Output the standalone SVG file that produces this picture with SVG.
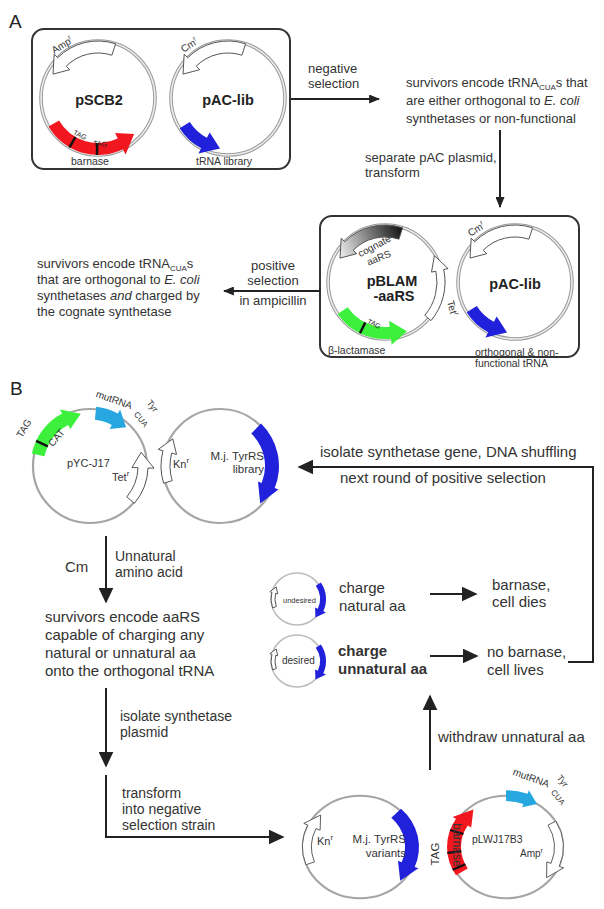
<svg xmlns="http://www.w3.org/2000/svg" width="604" height="909" viewBox="0 0 604 909">
<defs>
<style>
text{font-family:"Liberation Sans",Arial,Helvetica,sans-serif;fill:#333}
.ta{font-size:13px}
.tb{font-size:15px}
.tc{font-size:14px}
.lab{font-size:10.5px}
.sm{font-size:7px;fill:#222}
.big{font-size:19px;fill:#222}
.pn{font-size:14.5px;font-weight:bold;fill:#222;text-anchor:middle}
.box{fill:none;stroke:#333;stroke-width:2}
.ring{fill:none;stroke:#9a9a9a;stroke-width:3.6}
.ringin{fill:none;stroke:#ececec;stroke-width:1.6}
.cb{fill:none;stroke:#a5a5a5;stroke-width:2.2}
.wa{fill:#fff;stroke:#555;stroke-width:1}
.red{fill:#f2161e}
.grn{fill:#3cf03c}
.blu{fill:#2121dc}
.lb{fill:#27a7df}
.tick{stroke:#111;stroke-width:2.5}
.conn{fill:none;stroke:#222;stroke-width:2}
</style>
<marker id="ha" viewBox="0 0 10 10" refX="9" refY="5" markerWidth="11" markerHeight="9" orient="auto" markerUnits="userSpaceOnUse" preserveAspectRatio="none"><path d="M0,0L10,5L0,10Z" fill="#222"/></marker>
<marker id="hb" viewBox="0 0 10 10" refX="9" refY="5" markerWidth="16" markerHeight="15" orient="auto" markerUnits="userSpaceOnUse" preserveAspectRatio="none"><path d="M0,0L10,5L0,10Z" fill="#222"/></marker>
<linearGradient id="cog" gradientUnits="userSpaceOnUse" x1="115" y1="44" x2="55" y2="70"><stop offset="0" stop-color="#111"/><stop offset="1" stop-color="#e6e6e6"/></linearGradient>
</defs>

<text class="big" x="9" y="28">A</text>
<text class="big" x="10" y="395">B</text>

<g id="box1"><rect class="box" x="32" y="29" width="258" height="140" rx="12"/></g>
<g id="box2"><rect class="box" x="320" y="216" width="259" height="141" rx="12"/></g>

<g id="pSCB2">
<circle class="ring" cx="98" cy="98" r="57"/><circle class="ringin" cx="98" cy="98" r="57"/>
<path class="wa" d="M115.6,43.8 A57,57 0 0 0 57.7,57.7 L54.2,54.2 L53,74.1 L69.7,69.7 L66.2,66.2 A45,45 0 0 1 111.9,55.2 Z"/>
<text transform="translate(64,48) rotate(-32)" font-size="10" text-anchor="middle">Amp<tspan font-size="7" dy="-4">r</tspan></text>
<path class="red" d="M48.6,126.5 A57,57 0 0 0 123,149.2 L125.6,154.6 L134.1,134.1 L115.1,133.1 L117.7,138.4 A45,45 0 0 1 59,120.5 Z"/>
<line class="tick" x1="75.5" y1="137" x2="69.5" y2="147.4"/>
<line class="tick" x1="97.2" y1="143" x2="97" y2="155"/>
<text class="sm" transform="translate(79,137) rotate(25)" text-anchor="middle">TAG</text>
<text class="sm" transform="translate(100,146) rotate(5)" text-anchor="middle">TAG</text>
<text class="pn" x="99" y="105">pSCB2</text>
<text class="lab" x="90" y="165" text-anchor="middle">barnase</text>
</g>

<g id="pAC-lib">
<circle class="ring" cx="228" cy="98" r="57"/><circle class="ringin" cx="228" cy="98" r="57"/>
<path class="wa" d="M245.6,43.8 A57,57 0 0 0 187.7,57.7 L184.2,54.2 L183,74.1 L199.7,69.7 L196.2,66.2 A45,45 0 0 1 241.9,55.2 Z"/>
<text transform="translate(191,48) rotate(-32)" font-size="10" text-anchor="middle">Cm<tspan font-size="7" dy="-4">r</tspan></text>
<path class="blu" d="M179.7,128.2 A57,57 0 0 0 201.2,148.3 L198.4,153.6 L220,148.4 L209.7,132.4 L206.9,137.7 A45,45 0 0 1 189.8,121.9 Z"/>
<text class="pn" x="228" y="105">pAC-lib</text>
<text class="lab" x="196" y="165">tRNA library</text>
</g>

<g id="pBLAM-aaRS">
<g transform="translate(287,184)">
<circle class="ring" cx="98" cy="98" r="57"/><circle class="ringin" cx="98" cy="98" r="57"/>
<path d="M115.6,43.8 A57,57 0 0 0 57.7,57.7 L54.2,54.2 L53,74.1 L69.7,69.7 L66.2,66.2 A45,45 0 0 1 111.9,55.2 Z" fill="url(#cog)" stroke="#555" stroke-width="1"/>
</g>
<path class="grn" d="M337.7,313.9 A57,57 0 0 0 391,338.7 L391.6,344.7 L407,331.3 L389.1,320.8 L389.7,326.8 A45,45 0 0 1 347.7,307.2 Z"/>
<line class="tick" x1="365.3" y1="322.4" x2="360" y2="333.2"/>
<text class="sm" transform="translate(373,326) rotate(26)" text-anchor="middle">TAG</text>
<path class="wa" d="M431,320.6 A60,60 0 0 0 443.7,269.5 L448.1,268.6 L434.4,255.7 L431.5,272.1 L435.9,271.2 A52,52 0 0 1 424.8,315.4 Z"/>
<text transform="translate(449,309) rotate(75)" font-size="10" text-anchor="middle">Tet<tspan font-size="7" dy="-4">r</tspan></text>
<text transform="translate(376,249) rotate(-28)" font-size="10" text-anchor="middle">cognate</text>
<text transform="translate(380,261) rotate(-22)" font-size="10" text-anchor="middle">aaRS</text>
<text class="pn" x="392" y="286">pBLAM</text>
<text class="pn" x="394" y="301">-aaRS</text>
<text class="lab" x="328" y="354">β-lactamase</text>
</g>

<g id="pAC-lib-2">
<g transform="translate(287,184)">
<circle class="ring" cx="228" cy="98" r="57"/><circle class="ringin" cx="228" cy="98" r="57"/>
<path class="wa" d="M245.6,43.8 A57,57 0 0 0 187.7,57.7 L184.2,54.2 L183,74.1 L199.7,69.7 L196.2,66.2 A45,45 0 0 1 241.9,55.2 Z"/>
<text transform="translate(191,48) rotate(-32)" font-size="10" text-anchor="middle">Cm<tspan font-size="7" dy="-4">r</tspan></text>
<path class="blu" d="M179.7,128.2 A57,57 0 0 0 201.2,148.3 L198.4,153.6 L220,148.4 L209.7,132.4 L206.9,137.7 A45,45 0 0 1 189.8,121.9 Z"/>
<text class="pn" x="228" y="105">pAC-lib</text>
</g>
<text class="lab" x="475" y="356">orthogonal &amp; non-</text>
<text class="lab" x="475" y="367">functional tRNA</text>
</g>

<g id="textA">
<text class="ta" x="308" y="73">negative</text>
<text class="ta" x="308" y="88">selection</text>
<text class="ta" x="406" y="87">survivors encode tRNA<tspan font-size="8" dy="3">CUA</tspan><tspan dy="-3">s that</tspan></text>
<text class="ta" x="406" y="105">are either orthogonal to <tspan font-style="italic">E. coli</tspan></text>
<text class="ta" x="406" y="123">synthetases or non-functional</text>
<text class="ta" x="365" y="162">separate pAC plasmid,</text>
<text class="ta" x="365" y="177">transform</text>
<text class="ta" x="37" y="268">survivors encode tRNA<tspan font-size="8" dy="3">CUA</tspan><tspan dy="-3">s</tspan></text>
<text class="ta" x="37" y="284">that are orthogonal to <tspan font-style="italic">E. coli</tspan></text>
<text class="ta" x="37" y="300">synthetases <tspan font-style="italic">and</tspan> charged by</text>
<text class="ta" x="37" y="316">the cognate synthetase</text>
<text class="ta" x="273" y="270" text-anchor="middle">positive</text>
<text class="ta" x="273" y="285" text-anchor="middle">selection</text>
<text class="ta" x="273" y="305" text-anchor="middle">in ampicillin</text>
</g>

<g id="pYC-J17">
<circle class="cb" cx="90" cy="466" r="57"/>
<path class="grn" d="M31.8,453.6 A59.5,59.5 0 0 1 62.1,413.5 L60,409.5 L80.8,413.8 L70.3,428.9 L68.2,425 A46.5,46.5 0 0 0 44.5,456.3 Z"/>
<line class="tick" x1="47.9" y1="446.3" x2="36.1" y2="440.9"/>
<text transform="translate(27,430) rotate(-60)" font-size="10" text-anchor="middle">TAG</text>
<text transform="translate(59,440) rotate(-50)" font-size="10" text-anchor="middle">CAT</text>
<path class="lb" d="M96.2,406.8 A59.5,59.5 0 0 1 117.9,413.5 L120.1,409.5 L126.1,427.2 L109.7,428.9 L111.8,425 A46.5,46.5 0 0 0 94.9,419.8 Z"/>
<text transform="translate(113,403) rotate(19)" font-size="10" text-anchor="middle">mutRNA</text>
<text transform="translate(139,421) rotate(50)" font-size="8" text-anchor="middle">CUA</text>
<text transform="translate(150,408) rotate(52)" font-size="9" text-anchor="middle">Tyr</text>
<path class="wa" d="M134.4,503.3 A58,58 0 0 0 148,468 L154,468.2 L141.2,452.3 L132,467.5 L138,467.7 A48,48 0 0 1 126.8,496.9 Z"/>
<text x="67" y="467" font-size="11">pYC-J17</text>
<text x="112" y="481" font-size="11">Tet<tspan font-size="8" dy="-5">r</tspan></text>
</g>

<g id="tyrRS-library">
<circle class="cb" cx="220" cy="466" r="57"/>
<path class="wa" d="M163.6,483.3 A59,59 0 0 1 163,450.7 L158.2,449.4 L172.8,438.8 L176.5,454.4 L171.7,453.1 A50,50 0 0 0 172.2,480.6 Z"/>
<path class="blu" d="M261,423.6 A59,59 0 0 1 274.7,488.1 L278.4,489.6 L260.2,503.5 L258,481.4 L261.7,482.9 A45,45 0 0 0 251.3,433.6 Z"/>
<text x="173" y="468" font-size="11">Kn<tspan font-size="8" dy="-5">r</tspan></text>
<text x="264" y="460" font-size="11.5" text-anchor="end">M.j. TyrRS</text>
<text x="264" y="473" font-size="11.5" text-anchor="end">library</text>
</g>

<g id="undesired">
<g transform="translate(297,599)">
<circle r="26" fill="none" stroke="#bbb" stroke-width="1.5"/>
<path class="blu" d="M23.8,-16.6 A29,29 0 0 1 26.3,12.3 L29,13.5 L18.4,18.4 L18.1,8.5 L20.8,9.7 A23,23 0 0 0 18.8,-13.2 Z"/>
<path class="wa" d="M-24.4,8.9 A26,26 0 0 1 -25.1,-6.7 L-27.1,-7.3 L-20.8,-12 L-19.3,-5.2 L-21.3,-5.7 A22,22 0 0 0 -20.7,7.5 Z"/>
</g>
<text x="283" y="603" font-size="7.5">undesired</text>
</g>

<g id="desired">
<g transform="translate(297,661)">
<circle r="26" fill="none" stroke="#bbb" stroke-width="1.5"/>
<path class="blu" d="M23.8,-16.6 A29,29 0 0 1 26.3,12.3 L29,13.5 L18.4,18.4 L18.1,8.5 L20.8,9.7 A23,23 0 0 0 18.8,-13.2 Z"/>
<path class="wa" d="M-24.4,8.9 A26,26 0 0 1 -25.1,-6.7 L-27.1,-7.3 L-20.8,-12 L-19.3,-5.2 L-21.3,-5.7 A22,22 0 0 0 -20.7,7.5 Z"/>
</g>
<text x="282" y="664" font-size="10">desired</text>
</g>

<g id="tyrRS-variants">
<g transform="translate(360,847) scale(1,0.9)">
<circle class="cb" r="57"/>
<path class="wa" d="M-54,19.7 A57.5,57.5 0 0 1 -52.1,-24.3 L-56.2,-26.2 L-39.4,-35.5 L-39.9,-18.6 L-44,-20.5 A48.5,48.5 0 0 0 -45.6,16.6 Z"/>
<path class="blu" d="M41,-42.4 A59,59 0 0 1 54.7,22.1 L58.4,23.6 L40.2,37.5 L38,15.4 L41.7,16.9 A45,45 0 0 0 31.3,-32.4 Z"/>
</g>
<text x="317" y="845" font-size="11">Kn<tspan font-size="8" dy="-5">r</tspan></text>
<text x="406" y="843" font-size="11.5" text-anchor="end">M.j. TyrRS</text>
<text x="406" y="857" font-size="11.5" text-anchor="end">variants</text>
</g>

<g id="pLWJ17B3">
<g transform="translate(506,847) scale(1,0.9)">
<circle class="cb" r="57"/>
<path class="red" d="M-50,31.3 A59,59 0 0 1 -50,-31.3 L-53.4,-33.4 L-32.6,-41.8 L-34.8,-21.7 L-38.2,-23.9 A45,45 0 0 0 -38.2,23.9 Z"/>
<line class="tick" x1="-42.6" y1="-14.4" x2="-55.9" y2="-18.9"/>
<line class="tick" x1="-44.7" y1="4.9" x2="-58.7" y2="6.4"/>
<line class="tick" x1="-40.7" y1="19.2" x2="-53.3" y2="25.2"/>
<path class="lb" d="M0,-63 A63,63 0 0 1 21.6,-59.2 L22.9,-63 L31,-47.8 L16.1,-44.2 L17.4,-47.9 A51,51 0 0 0 0,-51 Z"/>
<path class="wa" d="M49.8,-28.8 A57.5,57.5 0 0 1 53.3,21.5 L57.5,23.2 L40.6,34.1 L40.8,16.5 L45,18.2 A48.5,48.5 0 0 0 42,-24.3 Z"/>
</g>
<text transform="translate(439,854) rotate(-90)" font-size="11.5" text-anchor="middle">TAG</text>
<text transform="translate(453,845) rotate(90)" font-size="12" text-anchor="middle">barnase</text>
<text transform="translate(530,781) rotate(20)" font-size="10" text-anchor="middle">mutRNA</text>
<text transform="translate(556,799) rotate(50)" font-size="8" text-anchor="middle">CUA</text>
<text transform="translate(560,783) rotate(52)" font-size="9" text-anchor="middle">Tyr</text>
<text x="472" y="843" font-size="10.5">pLWJ17B3</text>
<text x="520" y="857" font-size="10">Amp<tspan font-size="7" dy="-4">r</tspan></text>
</g>

<g id="textB">
<text class="tb" x="320" y="457">isolate synthetase gene, DNA shuffling</text>
<text class="tb" x="340" y="483">next round of positive selection</text>
<text class="tb" x="65" y="572">Cm</text>
<text class="tc" x="115" y="561">Unnatural</text>
<text class="tc" x="115" y="577">amino acid</text>
<text class="tb" x="45" y="622">survivors encode aaRS</text>
<text class="tb" x="45" y="640">capable of charging any</text>
<text class="tb" x="45" y="658">natural or unnatural aa</text>
<text class="tb" x="45" y="676">onto the orthogonal tRNA</text>
<text class="tc" x="120" y="721">isolate synthetase</text>
<text class="tc" x="120" y="737">plasmid</text>
<text class="tc" x="122" y="798">transform</text>
<text class="tc" x="122" y="814">into negative</text>
<text class="tc" x="122" y="830">selection strain</text>
<text class="tb" x="339" y="593">charge</text>
<text class="tb" x="339" y="611">natural aa</text>
<text class="tb" x="338" y="656" font-weight="bold">charge</text>
<text class="tb" x="338" y="674" font-weight="bold">unnatural aa</text>
<text class="tb" x="492" y="590">barnase,</text>
<text class="tb" x="492" y="607">cell dies</text>
<text class="tb" x="487" y="657">no barnase,</text>
<text class="tb" x="487" y="675">cell lives</text>
<text class="tb" x="438" y="742">withdraw unnatural aa</text>
</g>

<g id="connectors">
<line class="conn" x1="291" y1="99" x2="379" y2="99" marker-end="url(#ha)"/>
<line class="conn" x1="500" y1="130" x2="500" y2="207" marker-end="url(#ha)"/>
<line class="conn" x1="320" y1="291" x2="224" y2="291" marker-end="url(#ha)"/>
<line class="conn" x1="106" y1="536" x2="106" y2="602" marker-end="url(#hb)"/>
<line class="conn" x1="106" y1="688" x2="106" y2="766" marker-end="url(#hb)"/>
<polyline class="conn" points="106,775 106,837 283,837" marker-end="url(#hb)"/>
<line class="conn" x1="430" y1="770" x2="430" y2="696" marker-end="url(#hb)"/>
<line class="conn" x1="430" y1="594" x2="476" y2="594" marker-end="url(#hb)"/>
<line class="conn" x1="430" y1="656" x2="477" y2="656" marker-end="url(#hb)"/>
<polyline class="conn" points="568,662 593,662 593,467 299,467" marker-end="url(#hb)"/>
</g>
</svg>
